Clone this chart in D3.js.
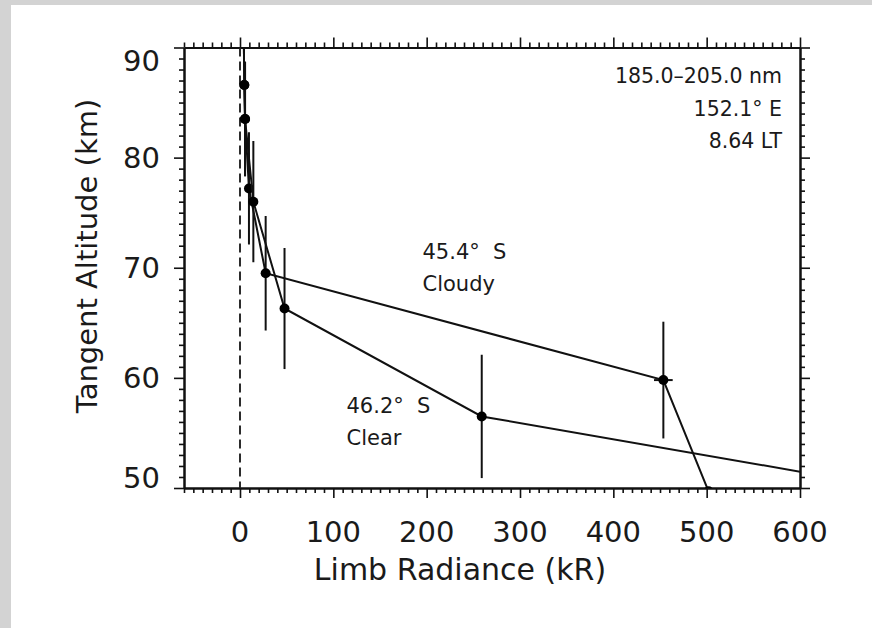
<!DOCTYPE html>
<html>
<head>
<meta charset="utf-8">
<script src="https://cdn.jsdelivr.net/npm/d3@7"></script>
<style>
  html, body { margin: 0; padding: 0; background: #d3d3d3; }
  svg { display: block; }
  text { font-family: "DejaVu Sans", sans-serif; fill: #1a1a1a; }
</style>
</head>
<body>
<svg id="chart" width="872" height="628"></svg>
<script>
// Limb radiance profiles, 185–205 nm band
const cloudyRadiance = [3.8, 4.6, 5.4, 9.6, 27.5, 453.6, 502.0];
const cloudyAltitude = [93.0, 86.6, 83.5, 77.2, 69.5, 59.8, 49.7];
const cloudyAltErr   = [0, 0, 5.2, 5.1, 5.2, 5.3, 0];
const cloudyRadErr   = [0, 0, 0, 0, 0, 10, 0];

const clearRadiance = [3.8, 4.6, 5.4, 14.3, 47.7, 259.0, 660.0];
const clearAltitude = [93.0, 86.6, 83.5, 76.0, 66.3, 56.5, 50.6];
const clearAltErr   = [0, 0, 5.2, 5.5, 5.5, 5.6, 0];
const clearRadErr   = [0, 0, 0, 0, 0, 0, 0];

const xMajorTicks = [0, 100, 200, 300, 400, 500, 600];
const yMajorTicks = [50, 60, 70, 80, 90];
const xMinorTicks = d3.range(-60, 601, 10).filter(v => v % 100 !== 0);
const yMinorTicks = d3.range(50, 91, 1).filter(v => v % 10 !== 0);

const infoLines = ["185.0\u2013205.0 nm", "152.1\u00b0 E", "8.64 LT"];
const cloudyLabel = ["45.4\u00b0  S", "Cloudy"];
const clearLabel = ["46.2\u00b0  S", "Clear"];

const svg = d3.select("#chart");
const frame = { left: 184, right: 800, top: 47.5, bottom: 488 };

// white page area inside the grey border
svg.append("rect").attr("x", 11).attr("y", 5).attr("width", 861).attr("height", 623).attr("fill", "#ffffff");

const x = d3.scaleLinear().domain([-60, 600]).range([frame.left, frame.right]);
const y = d3.scaleLinear().domain([50, 90]).range([frame.bottom, frame.top]);

svg.append("defs").append("clipPath").attr("id", "plotClip")
  .append("rect")
  .attr("x", frame.left).attr("y", frame.top)
  .attr("width", frame.right - frame.left).attr("height", frame.bottom - frame.top);

// axes: major and minor ticks on all four sides, pointing outward
function drawAxis(gen, transform, values, size) {
  const g = svg.append("g").attr("transform", transform)
    .call(gen.tickValues(values).tickSize(size).tickSizeOuter(0).tickFormat(""));
  g.select(".domain").attr("stroke", "#111").attr("stroke-width", 2);
  g.selectAll(".tick line").attr("stroke", "#111").attr("stroke-width", 1.6);
  return g;
}
drawAxis(d3.axisBottom(x), `translate(0,${frame.bottom})`, xMinorTicks, 5);
drawAxis(d3.axisBottom(x), `translate(0,${frame.bottom})`, xMajorTicks, 10);
drawAxis(d3.axisTop(x), `translate(0,${frame.top})`, xMinorTicks, 5);
drawAxis(d3.axisTop(x), `translate(0,${frame.top})`, xMajorTicks, 10);
drawAxis(d3.axisLeft(y), `translate(${frame.left},0)`, yMinorTicks, 5);
drawAxis(d3.axisLeft(y), `translate(${frame.left},0)`, yMajorTicks, 10);
drawAxis(d3.axisRight(y), `translate(${frame.right},0)`, yMinorTicks, 5);
drawAxis(d3.axisRight(y), `translate(${frame.right},0)`, yMajorTicks, 10);

// tick labels
svg.append("g").selectAll("text").data(xMajorTicks).join("text")
  .attr("x", d => x(d)).attr("y", 541.5)
  .attr("text-anchor", "middle").attr("font-size", 29)
  .text(d => d);

svg.append("g").selectAll("text").data(yMajorTicks).join("text")
  .attr("x", 160)
  .attr("y", d => d === 90 ? y(d) + 23.5 : d === 50 ? y(d) : y(d) + 10.5)
  .attr("text-anchor", "end").attr("font-size", 29)
  .text(d => d);

// axis titles
svg.append("text").attr("x", 460).attr("y", 580)
  .attr("text-anchor", "middle").attr("font-size", 30)
  .text("Limb Radiance (kR)");
svg.append("text")
  .attr("transform", `translate(97,${256}) rotate(-90)`)
  .attr("text-anchor", "middle").attr("font-size", 29)
  .text("Tangent Altitude (km)");

const plot = svg.append("g").attr("clip-path", "url(#plotClip)");

// zero-radiance reference
plot.append("line")
  .attr("x1", x(0)).attr("x2", x(0))
  .attr("y1", frame.top).attr("y2", frame.bottom)
  .attr("stroke", "#222").attr("stroke-width", 1.9)
  .attr("stroke-dasharray", "9,5");

function drawProfile(rad, alt, altErr, radErr) {
  const pts = rad.map((r, i) => ({ r, a: alt[i], ea: altErr[i], er: radErr[i] }));
  const line = d3.line().x(d => x(d.r)).y(d => y(d.a));
  plot.append("path").datum(pts).attr("d", line)
    .attr("fill", "none").attr("stroke", "#111").attr("stroke-width", 2);
  plot.append("g").selectAll("line").data(pts.filter(d => d.ea > 0)).join("line")
    .attr("x1", d => x(d.r)).attr("x2", d => x(d.r))
    .attr("y1", d => y(d.a - d.ea)).attr("y2", d => y(d.a + d.ea))
    .attr("stroke", "#111").attr("stroke-width", 2);
  plot.append("g").selectAll("line").data(pts.filter(d => d.er > 0)).join("line")
    .attr("x1", d => x(d.r - d.er)).attr("x2", d => x(d.r + d.er))
    .attr("y1", d => y(d.a)).attr("y2", d => y(d.a))
    .attr("stroke", "#111").attr("stroke-width", 2);
  plot.append("g").selectAll("circle").data(pts).join("circle")
    .attr("cx", d => x(d.r)).attr("cy", d => y(d.a)).attr("r", 5)
    .attr("fill", "#000");
}
drawProfile(cloudyRadiance, cloudyAltitude, cloudyAltErr, cloudyRadErr);
drawProfile(clearRadiance, clearAltitude, clearAltErr, clearRadErr);

// annotations
svg.append("g").selectAll("text").data(infoLines).join("text")
  .attr("x", 782).attr("y", (d, i) => 83 + i * 32.5)
  .attr("text-anchor", "end").attr("font-size", 20.5)
  .text(d => d);

function labelBlock(lines, x0, y0) {
  svg.append("g").selectAll("text").data(lines).join("text")
    .attr("x", x0).attr("y", (d, i) => y0 + i * 32.5)
    .attr("font-size", 21).style("white-space", "pre")
    .text(d => d);
}
labelBlock(cloudyLabel, 422.5, 258.5);
labelBlock(clearLabel, 346.5, 412.5);
</script>
</body>
</html>
